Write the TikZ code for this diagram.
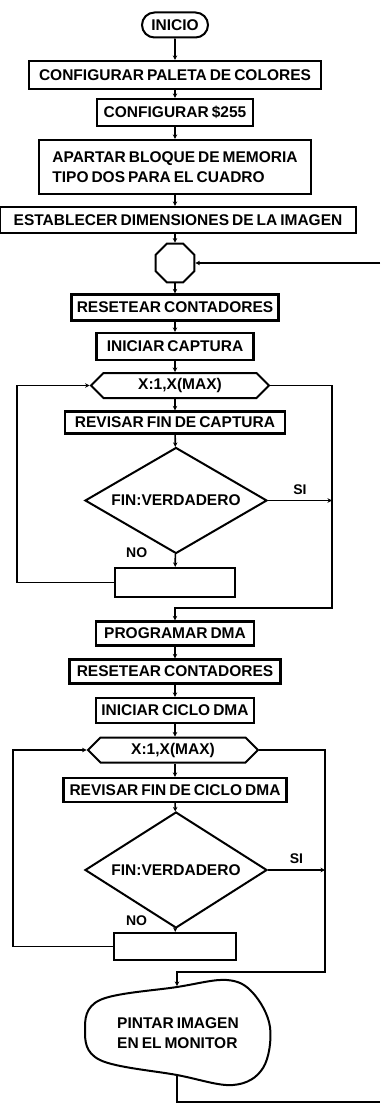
\documentclass[tikz,border=0pt]{standalone}
\usepackage{fontspec}
\setmainfont{Liberation Sans}
\usetikzlibrary{shapes.geometric, shapes.misc, shapes.symbols, arrows.meta}

\begin{document}
\begin{tikzpicture}[
    x=1pt, y=-1pt,
    flow/.style={->, >={Stealth[length=4.5pt,width=4.5pt]}, line width=1.6pt},
    plain/.style={line width=1.6pt},
    txt/.style={font={\fontsize{15.5}{20}\selectfont\bfseries\spaceskip=3pt plus 1pt\relax}},
    process/.style={txt, rectangle, draw, line width=2.2pt, minimum height=26pt, inner xsep=3pt, inner ysep=2pt, align=left},
    terminal/.style={txt, rounded rectangle, draw, line width=2pt, minimum width=70pt, minimum height=25pt, inner sep=2pt},
    joint/.style={regular polygon, regular polygon sides=8, draw, line width=2pt, minimum size=42pt, inner sep=0pt},
    loophead/.style={txt, signal, signal to=west and east, draw, line width=2pt, minimum width=178pt, minimum height=25pt, inner sep=2pt},
    decision/.style={diamond, draw, line width=2pt, minimum width=182pt, minimum height=106pt, inner sep=0pt},
    tag/.style={font=\fontsize{14}{16}\selectfont\bfseries}
]
    \useasboundingbox (0,0) rectangle (380,1105);

    \node[terminal] (inicio) at (175,25) {INICIO};
    \node[process, minimum width=292pt, minimum height=28pt] (paleta) at (175,75) {CONFIGURAR PALETA DE COLORES};
    \node[process, minimum width=156pt, minimum height=27pt] (cfg) at (175,112.5) {CONFIGURAR \$255};
    \node[process, minimum width=272pt, minimum height=54pt] (apartar) at (175,167) {APARTAR BLOQUE DE MEMORIA\\TIPO DOS PARA EL CUADRO};
    \node[process, minimum width=356pt] (dimens) at (178,220) {ESTABLECER DIMENSIONES DE LA IMAGEN};
    \node[joint] (oct) at (175,263) {};
    \coordinate (retorno) at (380,263);

    % primer ciclo: captura
    \node[process, minimum width=207pt] (reset1) at (175,307.5) {RESETEAR CONTADORES};
    \node[process, minimum width=157pt, minimum height=27pt] (captura) at (175,346.5) {INICIAR CAPTURA};
    \node[loophead] (loop1) at (180,385.5) {X:1,X(MAX)};
    \node[process, minimum width=220pt, minimum height=22pt] (revisar1) at (175,422.5) {REVISAR FIN DE CAPTURA};
    \node[decision, label={[txt]center:{FIN:VERDADERO}}] (dec1) at (176,500.5) {};
    \node[process, minimum width=120pt, minimum height=29pt] (box1) at (175,582.5) {};
    \coordinate (r1) at (332,608);

    % segundo ciclo: DMA
    \node[process, minimum width=158pt, minimum height=24pt] (programar) at (175,633.5) {PROGRAMAR DMA};
    \node[process, minimum width=211pt, minimum height=24pt] (reset2) at (175,671.5) {RESETEAR CONTADORES};
    \node[process, minimum width=158pt, minimum height=25pt] (ciclo) at (175,710.5) {INICIAR CICLO DMA};
    \node[loophead, minimum width=170pt] (loop2) at (173,750) {X:1,X(MAX)};
    \node[process, minimum width=223pt, minimum height=24pt] (revisar2) at (175,790) {REVISAR FIN DE CICLO DMA};
    \node[decision, minimum height=116pt, label={[txt]center:{FIN:VERDADERO}}] (dec2) at (176,870) {};
    \node[process, minimum width=122pt, minimum height=27pt] (box2) at (175,946.5) {};
    \coordinate (r2) at (325,972);

    % salida
    \node[txt, align=left] (pintar) at (178,1033) {PINTAR IMAGEN\\EN EL MONITOR};
    \draw[line width=2pt] plot[smooth cycle, tension=0.6] coordinates {(100,1000) (177,987) (227,980) (253,993) (270,1027) (263,1068) (233,1085) (177,1075) (100,1060) (85,1030)};
    \coordinate (pintartop) at (177,986);
    \coordinate (pintarbot) at (177,1075);
    \coordinate (salida) at (380,1102);

    \draw[flow] (inicio) -- (paleta);
    \draw[flow] (paleta) -- (cfg);
    \draw[flow] (cfg) -- (apartar);
    \draw[flow] (apartar) -- (apartar |- dimens.north);
    \draw[flow] (apartar |- dimens.south) -- (oct);
    \draw[flow] (retorno) -- (oct.east);
    \draw[flow] (oct) -- (reset1);
    \draw[flow] (reset1) -- (captura);
    \draw[flow] (captura) -- (captura |- loop1.north);
    \draw[flow] (captura |- loop1.south) -- (revisar1);
    \draw[flow] (revisar1) -- (dec1);
    \draw[flow] (dec1) -- (box1) node[tag, at start, anchor=east, xshift=-24pt, yshift=1pt] {NO};
    \draw[flow] (box1.west) -- ++(-97,0) |- (loop1.west);
    \draw[flow] (loop1.east) -| (r1) -| (programar);
    \draw[flow] (dec1.east) -- (dec1.east -| r1) node[tag, midway, above=2pt] {SI};

    \draw[flow] (programar) -- (reset2);
    \draw[flow] (reset2) -- (ciclo);
    \draw[flow] (ciclo) -- (ciclo |- loop2.north);
    \draw[flow] (ciclo |- loop2.south) -- (revisar2);
    \draw[flow] (revisar2) -- (dec2);
    \draw[flow] (dec2) -- (box2) node[tag, at start, anchor=east, xshift=-24pt, yshift=8pt] {NO};
    \draw[flow] (box2.west) -- ++(-100,0) |- (loop2.west);
    \draw[flow] (loop2.east) -| (r2) -| (pintartop);
    \draw[flow] (dec2.east) -- (dec2.east -| r2) node[tag, midway, above=2pt] {SI};
    \draw[plain] (pintarbot) |- (salida);
\end{tikzpicture}
\end{document}
